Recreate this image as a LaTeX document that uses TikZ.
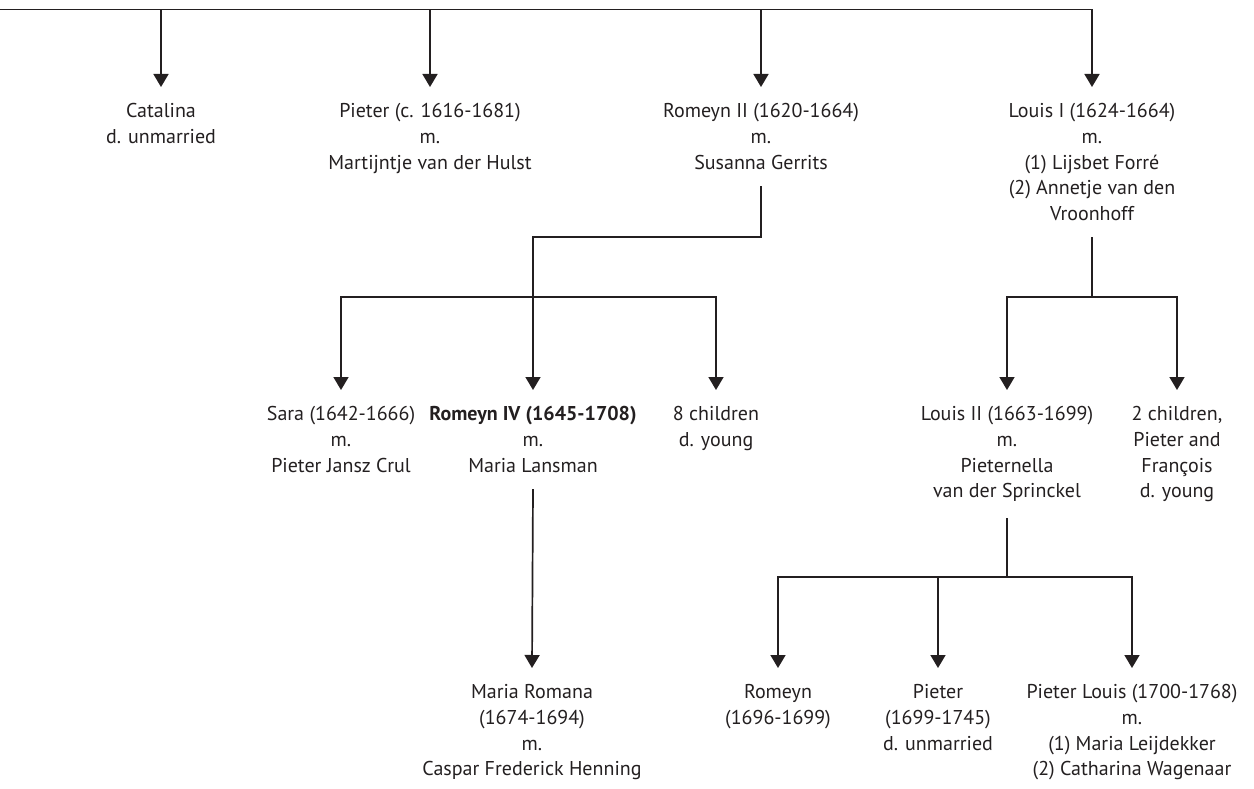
\documentclass[tikz,border=0pt]{standalone}
\usepackage{fontspec}
\setmainfont{PT Sans}
\usepackage{tikz}
\usetikzlibrary{arrows.meta}
\definecolor{treeink}{HTML}{231F20}
\tikzset{
  person/.style={align=center, anchor=north, inner xsep=2pt, inner ysep=16.5pt,
                 text=treeink, font=\fontsize{20}{25.6}\selectfont,
                 execute at begin node={\rule{0pt}{16pt}}},
  link/.style={draw=treeink, line width=1.7pt},
  descent/.style={link, -{Triangle[length=13pt, width=15pt]}},
}

\begin{document}
\begin{tikzpicture}[x=1pt, y=-1pt]
  \useasboundingbox (0,0) rectangle (1254,789);

  \node[person] (catalina) at (161,87) {Catalina\\d. unmarried};
  \node[person] (pieter) at (430,87) {Pieter (c. 1616-1681)\\m.\\Martijntje van der Hulst};
  \node[person] (romeynII) at (761,87) {Romeyn II (1620-1664)\\m.\\Susanna Gerrits};
  \node[person] (louisI) at (1092,87)
    {Louis I (1624-1664)\\m.\\(1) Lijsbet Forré\\(2) Annetje van den\\Vroonhoff};

  \node[person] (sara) at (341,390) {Sara (1642-1666)\\m.\\Pieter Jansz Crul};
  \node[person] (romeynIV) at (533,390) {\textbf{Romeyn IV (1645-1708)}\\m.\\Maria Lansman};
  \node[person] (young) at (716,390) {8 children\\d. young};
  \node[person] (louisII) at (1007,390) {Louis II (1663-1699)\\m.\\Pieternella\\van der Sprinckel};
  \node[person] (others) at (1177,390) {2 children,\\Pieter and\\François\\d. young};

  \node[person] (mariaR) at (532,668) {Maria Romana\\(1674-1694)\\m.\\Caspar Frederick Henning};
  \node[person] (romeyn) at (778,668) {Romeyn\\(1696-1699)};
  \node[person] (pieterJr) at (938,668) {Pieter\\(1699-1745)\\d. unmarried};
  \node[person] (pieterL) at (1132,668)
    {Pieter Louis (1700-1768)\\m.\\(1) Maria Leijdekker\\(2) Catharina Wagenaar};

  \coordinate (root) at (0,9.5);
  \coordinate (bar2) at (0,237);
  \coordinate (bar3) at (0,297);
  \coordinate (bar4) at (0,577);

  \draw[descent] (root) -| (louisI.north);
  \draw[descent] (catalina |- root) -- (catalina.north);
  \draw[descent] (pieter |- root) -- (pieter.north);
  \draw[descent] (romeynII |- root) -- (romeynII.north);

  \draw[descent] (romeynII.south) -- (romeynII |- bar2) -| (romeynIV.north);
  \draw[descent] (romeynIV |- bar3) -| (sara.north);
  \draw[descent] (romeynIV |- bar3) -| (young.north);

  \draw[link] (louisI.south) -- (louisI |- bar3);
  \draw[descent] (louisI |- bar3) -| (louisII.north);
  \draw[descent] (louisI |- bar3) -| (others.north);

  \draw[descent] (romeynIV.south) -- (mariaR.north);

  \draw[link] (louisII.south) -- (louisII |- bar4);
  \draw[descent] (louisII |- bar4) -| (romeyn.north);
  \draw[descent] (louisII |- bar4) -| (pieterL.north);
  \draw[descent] (pieterJr |- bar4) -- (pieterJr.north);
\end{tikzpicture}
\end{document}
